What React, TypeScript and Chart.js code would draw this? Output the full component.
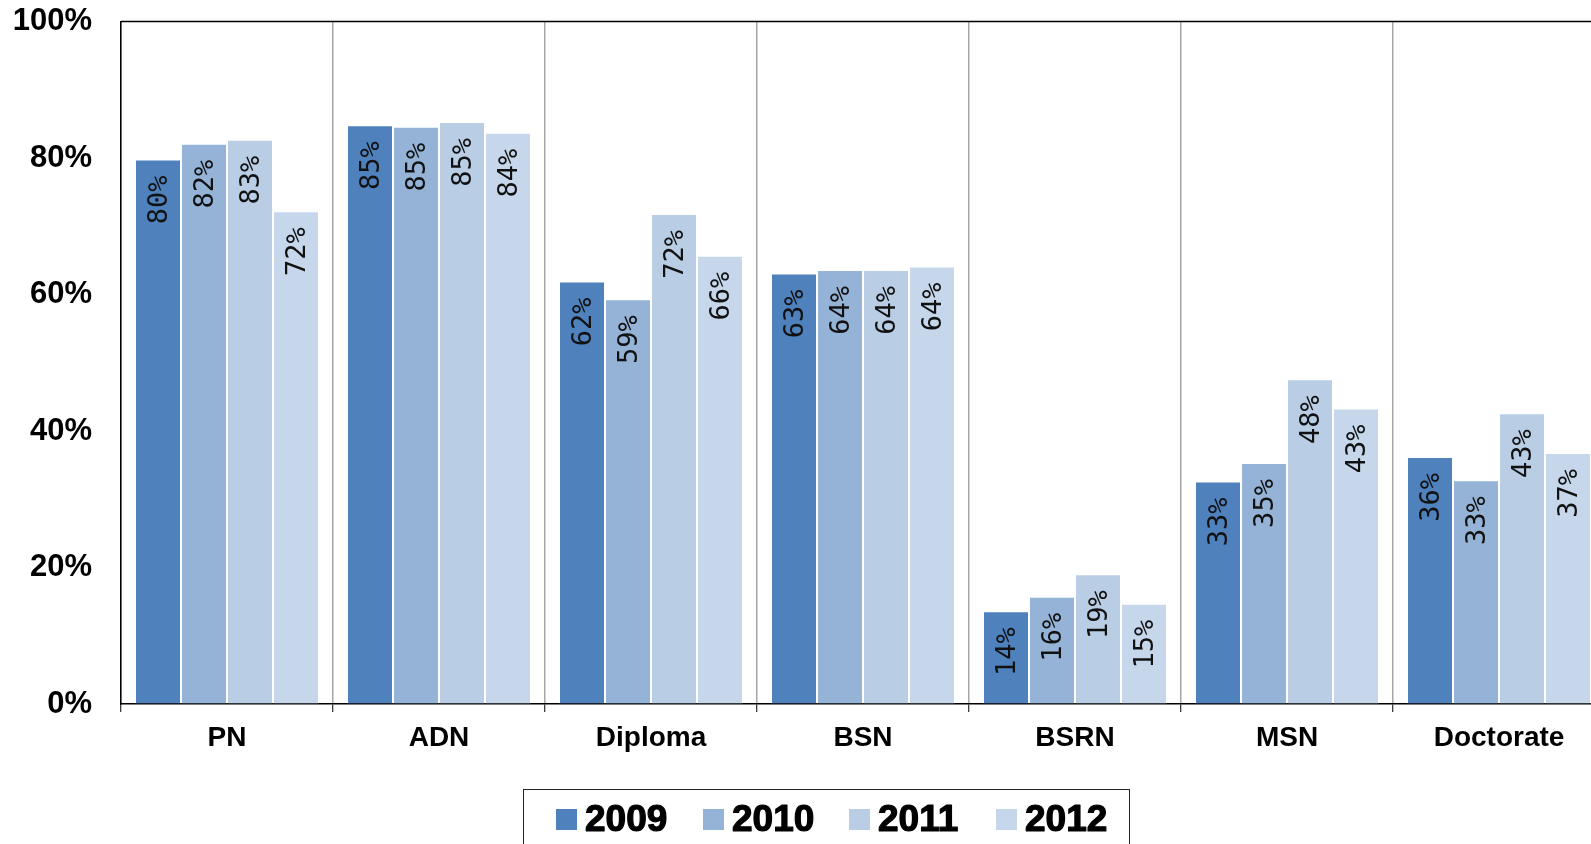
import { useEffect, useRef } from 'react';
import { Chart, registerables } from 'chart.js';

Chart.register(...registerables);

const categories = ['PN', 'ADN', 'Diploma', 'BSN', 'BSRN', 'MSN', 'Doctorate'];
const years = ['2009', '2010', '2011', '2012'];
const values2009 = [79.8, 84.8, 61.9, 63.1, 13.6, 32.6, 36.2];
const values2010 = [82.1, 84.6, 59.3, 63.6, 15.7, 35.3, 32.8];
const values2011 = [82.7, 85.3, 71.8, 63.6, 19.0, 47.6, 42.6];
const values2012 = [72.2, 83.7, 65.7, 64.1, 14.7, 43.3, 36.8];
const seriesColors = ['#4F81BD', '#95B3D7', '#B9CDE5', '#C6D7EC'];
const yTickValues = [0, 20, 40, 60, 80, 100];

const barLabels = {
  id: 'barLabels',
  afterDatasetsDraw(chart: any) {
    const ctx = chart.ctx;
    ctx.save();
    ctx.font = '27px "DejaVu Sans Mono"';
    ctx.fillStyle = '#111';
    ctx.textAlign = 'right';
    ctx.textBaseline = 'middle';
    chart.data.datasets.forEach((ds: any, di: number) => {
      const meta = chart.getDatasetMeta(di);
      meta.data.forEach((bar: any, i: number) => {
        const v = ds.data[i];
        ctx.save();
        ctx.translate(bar.x + 2, bar.y + 16);
        ctx.rotate(-Math.PI / 2);
        ctx.fillText(Math.round(v) + '%', 0, 0);
        ctx.restore();
      });
    });
    ctx.restore();
  },
};

const frameAndLegend = {
  id: 'frameAndLegend',
  afterDraw(chart: any) {
    const ctx = chart.ctx;
    const area = chart.chartArea;
    ctx.save();
    // top frame line
    ctx.strokeStyle = '#000';
    ctx.lineWidth = 1.5;
    ctx.beginPath();
    ctx.moveTo(area.left, area.top);
    ctx.lineTo(area.right, area.top);
    ctx.stroke();

    // legend box
    ctx.strokeStyle = '#222';
    ctx.lineWidth = 1;
    ctx.strokeRect(523.5, 789.5, 606, 90);
    chart.data.datasets.forEach((ds: any, i: number) => {
      const x = Math.round(556 + i * 146.7);
      ctx.fillStyle = ds.backgroundColor;
      ctx.fillRect(x, 809, 21, 21);
      ctx.font = 'bold 37px "Liberation Sans", Arial, sans-serif';
      ctx.textAlign = 'left';
      ctx.textBaseline = 'alphabetic';
      ctx.fillStyle = '#000';
      ctx.strokeStyle = '#000';
      ctx.lineWidth = 1.2;
      ctx.lineJoin = 'round';
      ctx.fillText(ds.label, x + 29, 831);
      ctx.strokeText(ds.label, x + 29, 831);
    });
    ctx.restore();
  },
};

export default function App() {
  const ref = useRef<HTMLCanvasElement>(null);

  useEffect(() => {
    const seriesValues = [values2009, values2010, values2011, values2012];
    const chart = new Chart(ref.current as HTMLCanvasElement, {
      type: 'bar',
      data: {
        labels: categories,
        datasets: years.map((y, i) => ({
          label: y,
          data: seriesValues[i],
          backgroundColor: seriesColors[i],
          borderColor: 'rgba(255,255,255,0.4)',
          borderWidth: 1,
          categoryPercentage: 0.868,
          barPercentage: 1.0,
        })),
      },
      options: {
        responsive: false,
        animation: false,
        devicePixelRatio: 1,
        layout: { padding: { left: 0, top: 21, right: 15, bottom: 116 } },
        plugins: {
          legend: { display: false },
          tooltip: { enabled: false },
        },
        scales: {
          x: {
            grid: {
              offset: true,
              color: '#A6A6A6',
              lineWidth: 1.5,
              tickLength: 8,
              tickColor: '#000',
              tickWidth: 1,
            },
            border: { color: '#000', width: 1.5 },
            ticks: {
              color: '#000',
              font: { family: '"Liberation Sans", Arial, sans-serif', weight: 'bold', size: 28 },
              padding: 9,
              maxRotation: 0,
              autoSkip: false,
            },
            afterFit: (s: any) => {
              s.height = 60;
            },
          },
          y: {
            min: 0,
            max: 100,
            afterBuildTicks: (s: any) => {
              s.ticks = yTickValues.map((v) => ({ value: v }));
            },
            ticks: {
              color: '#000',
              font: { family: '"Liberation Sans", Arial, sans-serif', weight: 'bold', size: 31 },
              padding: 3,
              callback: (v: any) => v + '%',
            },
            grid: {
              display: true,
              drawOnChartArea: false,
              drawTicks: true,
              tickLength: 26,
              tickColor: 'rgba(0,0,0,0)',
            },
            border: { color: '#000', width: 1.5 },
            afterFit: (s: any) => {
              s.width = 121;
            },
          },
        },
      },
      plugins: [barLabels, frameAndLegend],
    } as any);
    return () => chart.destroy();
  }, []);

  return (
    <div
      style={{
        position: 'fixed',
        left: 0,
        top: 0,
        width: '100vw',
        height: '100vh',
        overflow: 'hidden',
        background: '#fff',
      }}
    >
      <canvas ref={ref} width={1620} height={880} style={{ display: 'block', width: 1620, height: 880 }} />
    </div>
  );
}
